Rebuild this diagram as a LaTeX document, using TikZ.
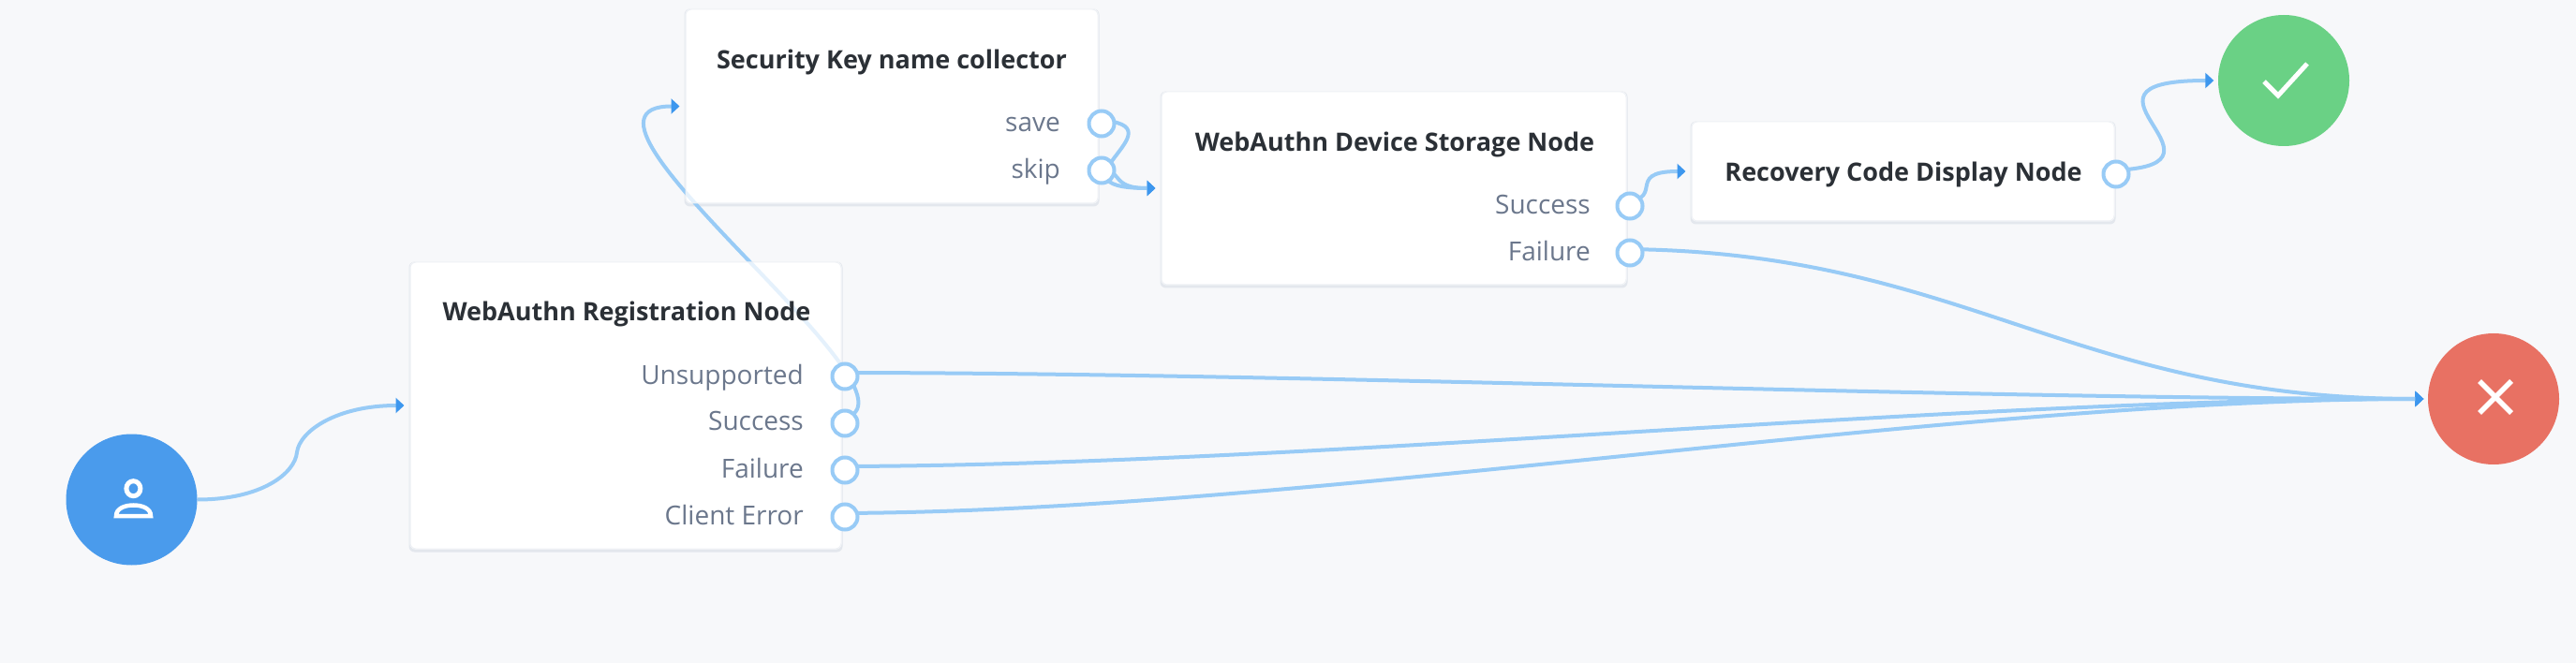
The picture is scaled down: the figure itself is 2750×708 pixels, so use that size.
\documentclass[tikz,border=0pt]{standalone}
\usepackage{fontspec}
\setmainfont{Open Sans}
\newfontfamily\titlefont{Open Sans Bold}
\usetikzlibrary{arrows.meta}
\definecolor{bgc}{HTML}{F7F8FA}
\definecolor{linec}{HTML}{98CBF6}
\definecolor{headc}{HTML}{3D97EE}
\definecolor{startc}{HTML}{4A9BEC}
\definecolor{okc}{HTML}{6AD185}
\definecolor{badc}{HTML}{E87163}
\definecolor{labc}{HTML}{6B778C}
\definecolor{titc}{HTML}{2B3036}
\definecolor{edgec}{HTML}{EEF1F5}
\definecolor{shadc}{HTML}{E3E7ED}
\pgfdeclarelayer{backlayer}
\pgfdeclarelayer{edgelayer}
\pgfsetlayers{backlayer,edgelayer,main}
\tikzset{
  flowbox/.style={rectangle,rounded corners=6pt,draw=edgec,line width=1pt,fill=white,fill opacity=0.75,inner sep=0pt,minimum width=#1},
  porto/.style={circle,draw=linec,line width=4pt,fill=white,inner sep=0pt,minimum size=27pt},
  endc/.style={circle,fill=#1,inner sep=0pt,minimum size=140pt},
  boxtitle/.style={anchor=base,inner sep=0pt,text=titc,font=\titlefont\fontsize{27}{34}\selectfont},
  portlabel/.style={anchor=base east,inner sep=0pt,text=labc,font=\fontsize{28}{34}\selectfont},
  conn/.style={draw=linec,line width=4pt,-{Triangle[length=9pt,width=16pt,color=headc]}},
  toBox/.style={conn,shorten >=6pt},
  toEnd/.style={conn,shorten >=4.5pt},
  iconline/.style={draw=white,line width=#1}
}
\begin{document}
\begin{tikzpicture}[x=1pt,y=-1pt]
\begin{pgfonlayer}{backlayer}
\path[fill=bgc] (0,0) rectangle (2750,708);
\end{pgfonlayer}
\useasboundingbox (0,0) rectangle (2750,708);

\node[endc=startc] (start) at (140.5,533.5) {};
\node[endc=okc] (good) at (2438,86) {};
\node[endc=badc] (bad) at (2662,426) {};

\node[flowbox=460pt,minimum height=306pt] (reg) at (668,433) {};
\node[flowbox=440pt,minimum height=207pt] (sec) at (952,113.5) {};
\node[flowbox=496pt,minimum height=206pt] (dev) at (1488,201) {};
\node[flowbox=451pt,minimum height=106pt] (rec) at (2031.5,183) {};

\begin{pgfonlayer}{backlayer}
\foreach \b in {reg,sec,dev,rec} {
  \fill[shadc,rounded corners=6pt] ([yshift=-3pt,xshift=-1pt]\b.south west) rectangle ([xshift=1pt]\b.north east);
  \fill[white,rounded corners=6pt] (\b.south west) rectangle (\b.north east);
}
\end{pgfonlayer}

\node[boxtitle] (regt) at (669,343) {WebAuthn Registration Node};
\node[boxtitle] (sect) at (952,74) {Security Key name collector};
\node[boxtitle] (devt) at (1489,162) {WebAuthn Device Storage Node};
\node[boxtitle] (rect) at (2032,194) {Recovery Code Display Node};

\node[portlabel] (l1) at (858,410) {Unsupported};
\node[portlabel] (l2) at (858,460) {Success};
\node[portlabel] (l3) at (858,510) {Failure};
\node[portlabel] (l4) at (858,560) {Client Error};
\node[portlabel] (l5) at (1132,140.5) {save};
\node[portlabel] (l6) at (1132,190.5) {skip};
\node[portlabel] (l7) at (1698,229) {Success};
\node[portlabel] (l8) at (1698,279) {Failure};

\node[porto] (runs) at (902,402) {};
\node[porto] (rsuc) at (902,452) {};
\node[porto] (rfai) at (902,502) {};
\node[porto] (rcli) at (902,552) {};
\node[porto] (ssav) at (1176,132) {};
\node[porto] (sski) at (1176,182) {};
\node[porto] (dsuc) at (1740,220) {};
\node[porto] (dfai) at (1740,270) {};
\node[porto] (rcod) at (2259,186) {};

\begin{pgfonlayer}{edgelayer}
\draw[toBox] (start.east) .. controls (280,533.5) and (315,505) .. (317,483) .. controls (320,460) and (360,433) .. (reg.west);
\draw[toBox] ([yshift=4pt]rsuc.west) .. controls +(150,0) and +(-165,0) .. (sec.west);
\draw[toBox] ([yshift=4pt]ssav.west) .. controls +(120,0) and +(-135,0) .. (dev.west);
\draw[toBox] ([yshift=4pt]sski.west) .. controls +(45,0) and +(-60,0) .. (dev.west);
\draw[toBox] ([yshift=4pt]dsuc.west) .. controls +(60,0) and +(-75,0) .. (rec.west);
\draw[toEnd] ([yshift=4pt]rcod.west) .. controls +(170,0) and +(-184,0) .. (good.west);
\draw[toEnd] ([yshift=4pt]dfai.west) .. controls +(370,0) and +(-384,0) .. (bad.west);
\draw[toEnd] ([yshift=4pt]runs.west) .. controls +(500,0) and +(-514,0) .. (bad.west);
\draw[toEnd] ([yshift=4pt]rfai.west) .. controls +(500,0) and +(-514,0) .. (bad.west);
\draw[toEnd] ([yshift=4pt]rcli.west) .. controls +(500,0) and +(-514,0) .. (bad.west);
\end{pgfonlayer}

% icons
\draw[iconline=5pt] (142.4,521.7) ellipse [x radius=7.5,y radius=8];
\draw[iconline=4.5pt,line join=miter] (124,551) .. controls (124,543) and (133,539.5) .. (142.5,539.5) .. controls (152,539.5) and (161,543) .. (161,551) -- cycle;
\draw[iconline=5pt] (2417,87) -- (2432,102) -- (2463,68);
\draw[iconline=5.5pt] (2647,407) -- (2681,441) (2681,407) -- (2647,441);
\end{tikzpicture}
\end{document}
